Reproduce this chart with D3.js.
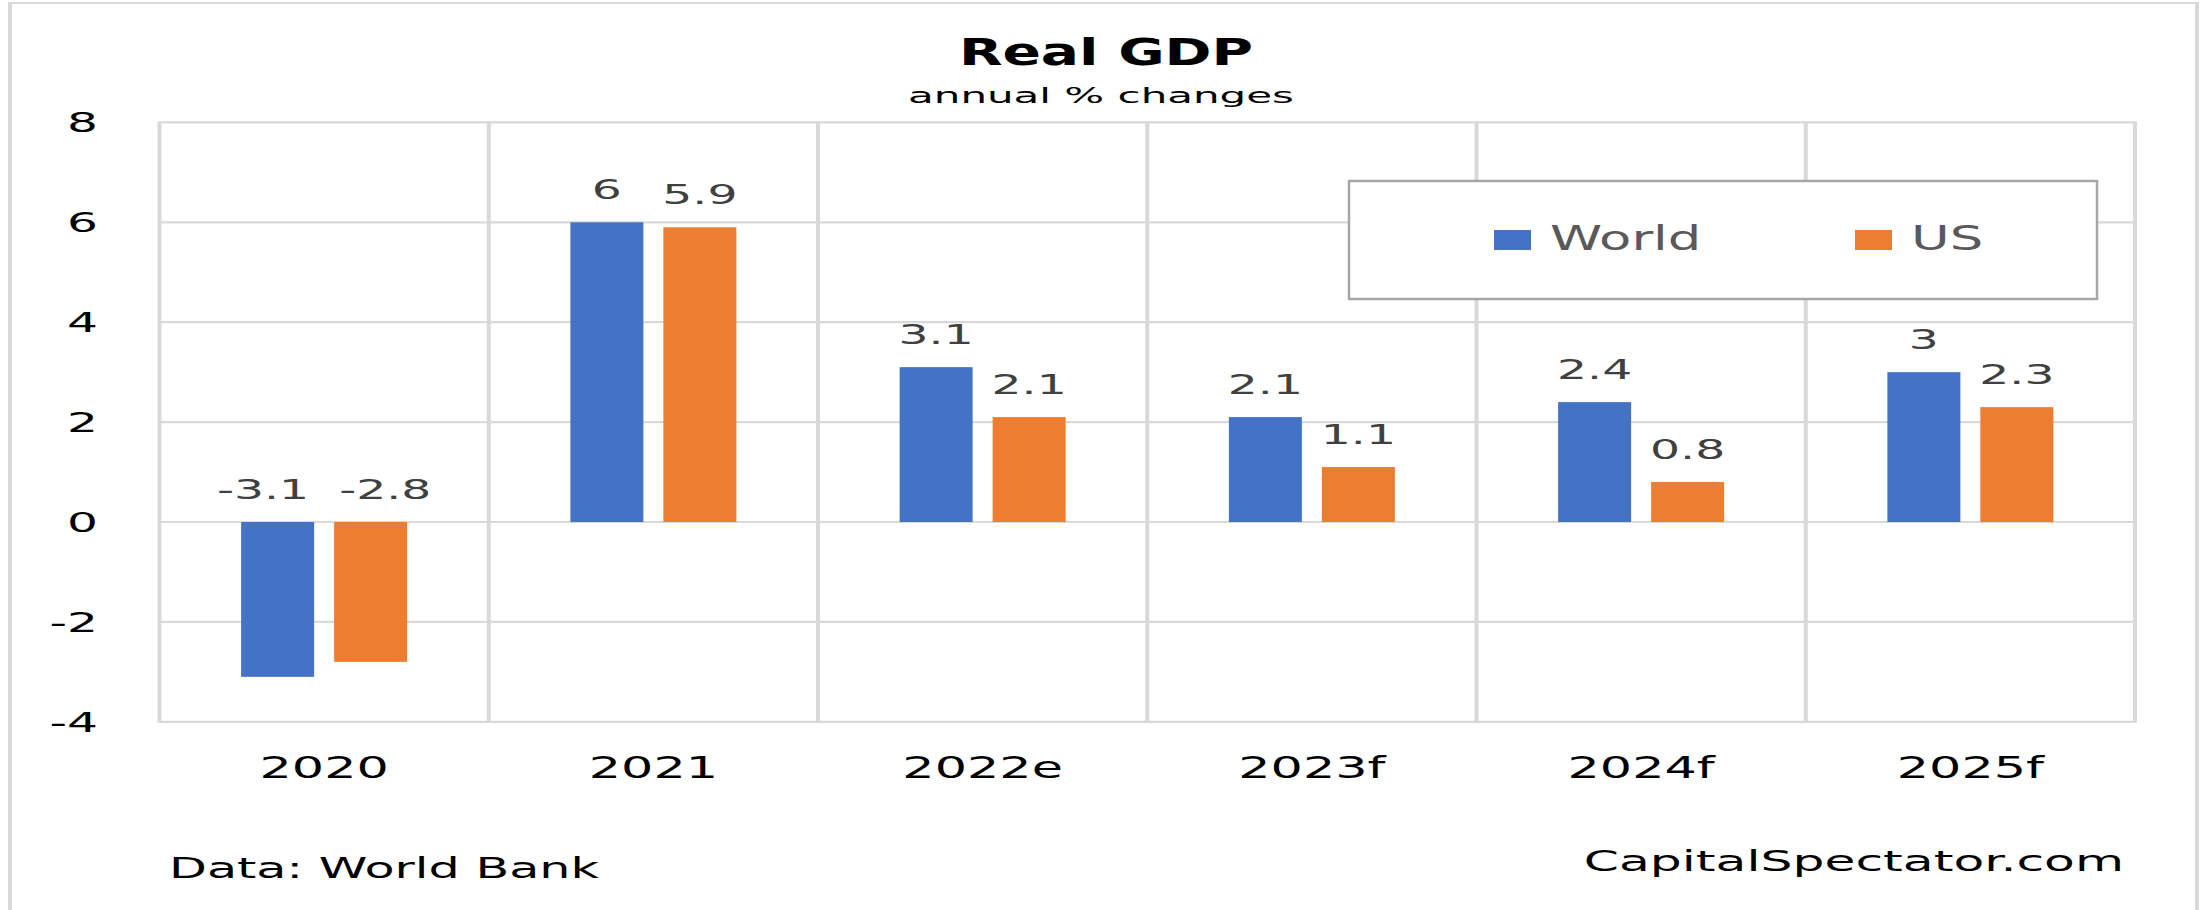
<!DOCTYPE html>
<html>
<head>
<meta charset="utf-8">
<script src="https://cdn.jsdelivr.net/npm/d3@7"></script>
<style>
  html, body { margin: 0; padding: 0; background: #fff; }
  svg { display: block; }
  text { font-family: "DejaVu Sans", Verdana, sans-serif; }
</style>
</head>
<body>
<svg id="chart" width="2211" height="910"></svg>
<script>
// ---- data ----
const categories = ["2020", "2021", "2022e", "2023f", "2024f", "2025f"];
const seriesNames = ["World", "US"];
const worldValues = [-3.1, 6, 3.1, 2.1, 2.4, 3];
const usValues = [-2.8, 5.9, 2.1, 1.1, 0.8, 2.3];
const yTicks = [-4, -2, 0, 2, 4, 6, 8];
const titleText = "Real GDP";
const subtitleText = "annual % changes";
const sourceText = "Data: World Bank";
const creditText = "CapitalSpectator.com";

// ---- styles ----
const colors = { World: "#4472C4", US: "#ED7D31" };
const gridColor = "#d9d9d9";

const W = 2211, H = 910;
const margin = { left: 159.5, right: W - 2135, top: 122.4, bottom: H - 721.8 };

const svg = d3.select("#chart");

// outer frame
svg.append("line").attr("x1", 10).attr("x2", 10).attr("y1", 2).attr("y2", H)
  .attr("stroke", gridColor).attr("stroke-width", 4);
svg.append("line").attr("x1", 2197).attr("x2", 2197).attr("y1", 2).attr("y2", H)
  .attr("stroke", gridColor).attr("stroke-width", 4);
svg.append("line").attr("x1", 8).attr("x2", 2199).attr("y1", 3).attr("y2", 3)
  .attr("stroke", gridColor).attr("stroke-width", 2);

const x0 = d3.scaleBand().domain(categories).range([margin.left, W - margin.right]);
const bw = x0.bandwidth();
const x1 = d3.scaleBand().domain(seriesNames).range([bw / 2 - 83, bw / 2 + 83]).paddingInner(0.215);
const y = d3.scaleLinear().domain([-4, 8]).range([H - margin.bottom, margin.top]);

function place(sel, x, yy, sx) {
  return sel.attr("transform", `translate(${x},${yy}) scale(${sx},1)`);
}

// horizontal gridlines
svg.append("g").selectAll("line").data(yTicks).join("line")
  .attr("x1", margin.left).attr("x2", W - margin.right)
  .attr("y1", d => y(d)).attr("y2", d => y(d))
  .attr("stroke", gridColor).attr("stroke-width", 2.2);

// vertical gridlines at category boundaries
const bounds = categories.map(c => x0(c)).concat([x0(categories[categories.length - 1]) + bw]);
svg.append("g").selectAll("line").data(bounds).join("line")
  .attr("x1", d => d).attr("x2", d => d)
  .attr("y1", y(8) - 1).attr("y2", y(-4) + 1)
  .attr("stroke", gridColor).attr("stroke-width", 4);

// y tick labels
svg.append("g").selectAll("text").data(yTicks).join("text")
  .each(function(d) { place(d3.select(this), 98, y(d) + 10, 1.8); })
  .attr("text-anchor", "end").attr("font-size", 27).attr("fill", "#000")
  .text(d => d);

// category labels
svg.append("g").selectAll("text").data(categories).join("text")
  .each(function(d) { place(d3.select(this), x0(d) + bw / 2, 778, 1.64); })
  .attr("text-anchor", "middle").attr("font-size", 31).attr("fill", "#000")
  .text(d => d);

// bars
const rows = categories.map((c, i) => ({ cat: c, values: [
  { key: "World", value: worldValues[i] },
  { key: "US", value: usValues[i] }
]}));

const groups = svg.append("g").selectAll("g").data(rows).join("g")
  .attr("transform", d => `translate(${x0(d.cat)},0)`);

groups.selectAll("rect").data(d => d.values).join("rect")
  .attr("x", d => x1(d.key))
  .attr("width", x1.bandwidth())
  .attr("y", d => Math.min(y(d.value), y(0)))
  .attr("height", d => Math.abs(y(d.value) - y(0)))
  .attr("fill", d => colors[d.key]);

const labelSx = 1.75;
groups.each(function(row) {
  const g = d3.select(this);
  const labels = g.selectAll("text.val").data(row.values).join("text")
    .attr("class", "val")
    .attr("text-anchor", "middle").attr("font-size", 27).attr("fill", "#404040")
    .text(d => d.value);
  // measure widths and separate labels that would overlap at the same height
  const info = row.values.map((d, i) => ({
    cx: x1(d.key) + x1.bandwidth() / 2,
    yy: Math.min(y(d.value), y(0)) - 23,
    w: labels.nodes()[i].getComputedTextLength() * labelSx
  }));
  const a = info[0], b = info[1];
  if (Math.abs(a.yy - b.yy) < 30) {
    const need = (a.w + b.w) / 2 + 30 - (b.cx - a.cx);
    if (need > 0) { a.cx -= need / 2; b.cx += need / 2; }
  }
  labels.each(function(d, i) { place(d3.select(this), info[i].cx, info[i].yy, labelSx); });
});

// legend
const legend = svg.append("g");
legend.append("rect").attr("x", 1349).attr("y", 181).attr("width", 748).attr("height", 118)
  .attr("fill", "#fff").attr("stroke", "#a6a6a6").attr("stroke-width", 2.5);
const legendX = { World: 1494, US: 1855 };
seriesNames.forEach(s => {
  legend.append("rect").attr("x", legendX[s]).attr("y", 230).attr("width", 37).attr("height", 20)
    .attr("fill", colors[s]);
  place(legend.append("text"), legendX[s] + 56, 250, 1.6)
    .attr("font-size", 33).attr("fill", "#595959").text(s);
});

// title & subtitle
place(svg.append("text"), 1106, 65, 1.53)
  .attr("text-anchor", "middle").attr("font-size", 37).attr("font-weight", "bold")
  .attr("fill", "#000").text(titleText);
place(svg.append("text"), 1101, 103, 2.0)
  .attr("text-anchor", "middle").attr("font-size", 21).attr("fill", "#000").text(subtitleText);

// source & credit
place(svg.append("text"), 169, 878, 1.79)
  .attr("font-size", 27.5).attr("fill", "#000").text(sourceText);
place(svg.append("text"), 2124, 871, 1.8)
  .attr("text-anchor", "end").attr("font-size", 28).attr("fill", "#000").text(creditText);
</script>
</body>
</html>
